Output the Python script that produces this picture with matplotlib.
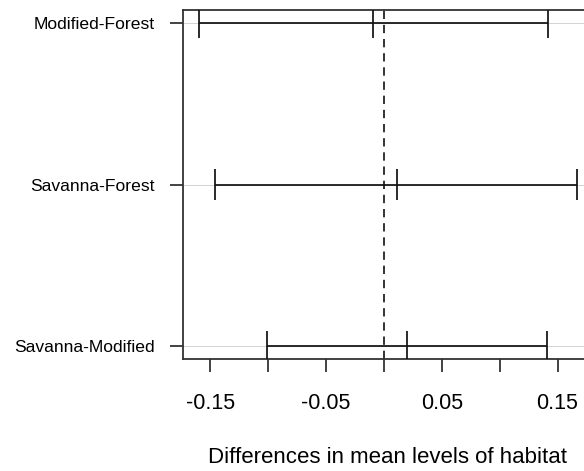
import matplotlib
matplotlib.use("Agg")
import matplotlib.pyplot as plt

comparisons = ["Modified-Forest", "Savanna-Forest", "Savanna-Modified"]
diff = [-0.0098, 0.011, 0.0196]
lwr = [-0.160, -0.146, -0.1014]
upr = [0.142, 0.1665, 0.1406]
xticks = [-0.15, -0.10, -0.05, 0.0, 0.05, 0.10, 0.15]
xticklabels = ["-0.15", "", "-0.05", "", "0.05", "", "0.15"]
xlabel = "Differences in mean levels of habitat"

plt.rcParams['font.family'] = ['Liberation Sans', 'DejaVu Sans']

fig = plt.figure(figsize=(5.84, 4.71), dpi=100)
W, H = 584, 471
left, right, top, bottom = 183, 591.8, 10, 359
ax = fig.add_axes([left / W, 1 - bottom / H, (right - left) / W, (bottom - top) / H])

n = len(comparisons)
yvals = list(range(n, 0, -1))
ax.set_xlim(-0.1737, 0.1796)
ax.set_ylim(0.92, 3.08)

for y in yvals:
    ax.axhline(y, color="#d3d3d3", lw=0.7, zorder=1)

cap = 0.093
black = "#111111"
for y, d, lo, hi in zip(yvals, diff, lwr, upr):
    ax.hlines(y, lo, hi, color=black, lw=1.25, zorder=3)
    ax.vlines([lo, d, hi], y - cap, y + cap, color=black, lw=1.25, zorder=3)

ax.axvline(0, color=black, lw=1.2, ls=(0, (5, 3.5)), zorder=2)

ax.set_xticks(xticks)
ax.set_xticklabels(xticklabels, fontsize=15.5)
ax.set_yticks(yvals)
ax.set_yticklabels(comparisons, fontsize=12.6)
ax.tick_params(axis='x', length=13/1.389, width=1.2, color="#222222", pad=15)
ax.tick_params(axis='y', length=13/1.389, width=1.2, color="#222222", pad=11)
for s in ax.spines.values():
    s.set_linewidth(1.3)
    s.set_color("#333333")

ax.set_xlabel(xlabel, fontsize=16, labelpad=24)

fig.savefig("out.png", dpi=100)
